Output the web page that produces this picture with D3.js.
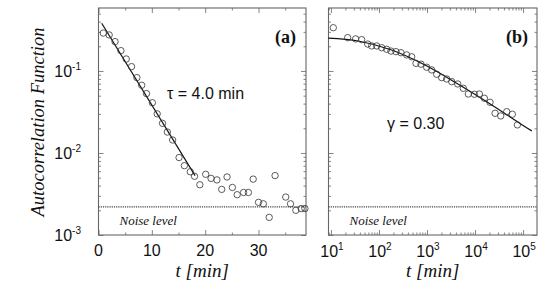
<!DOCTYPE html>
<html>
<head>
<meta charset="utf-8">
<script src="https://cdn.jsdelivr.net/npm/d3@7"></script>
<style>
  body { margin: 0; background: #fff; }
  svg { display: block; }
</style>
</head>
<body>
<svg id="chart" width="554" height="299"></svg>
<script>
// Panel (a): autocorrelation vs linear time
const aTime = [0.9, 2.0, 3.1, 4.2, 5.2, 6.2, 7.2, 8.1, 9.0, 10.1, 11.0, 12.0, 12.9, 13.9,
  15.1, 16.1, 17.2, 18.0, 19.0, 20.1, 21.1, 22.2, 23.1, 24.1, 25.1, 26.0, 27.2, 28.1,
  29.0, 30.0, 30.9, 32.0, 33.1, 35.1, 36.0, 37.0, 38.0, 38.7];
const aValue = [0.29, 0.275, 0.228, 0.177, 0.14, 0.113, 0.083, 0.067, 0.053, 0.041, 0.030,
  0.023, 0.018, 0.0144, 0.0088, 0.0070, 0.0059, 0.0052, 0.0041, 0.0055, 0.0049, 0.0047,
  0.0036, 0.0051, 0.0038, 0.0031, 0.0033, 0.0033, 0.0048, 0.0025, 0.0024, 0.00164, 0.0053,
  0.0029, 0.0024, 0.0020, 0.0021, 0.0021];
// exponential fit, ends
const aFitTime = [0.6, 18.1];
const aFitValue = [0.382, 0.0053];

// Panel (b): autocorrelation vs log time
const bTime = [11.2, 22.3, 32.7, 43.6, 58.2, 70.4, 89.6, 114, 145, 178, 226, 287, 377, 480,
  590, 750, 986, 1253, 1592, 2023, 2572, 3270, 4365, 5705, 7250, 9670, 12300, 15630,
  20530, 26100, 34300, 45700, 59800, 76100];
const bValue = [0.337, 0.255, 0.246, 0.241, 0.213, 0.202, 0.202, 0.192, 0.184, 0.175, 0.172,
  0.167, 0.157, 0.149, 0.124, 0.121, 0.111, 0.103, 0.0912, 0.0829, 0.0799, 0.0741, 0.0694,
  0.0615, 0.0524, 0.0520, 0.0524, 0.0465, 0.0415, 0.0305, 0.0283, 0.0319, 0.0297, 0.0220];
const bFitTime = [8.8, 37, 184, 908, 4490, 22300, 110000, 151700];
const bFitValue = [0.251, 0.232, 0.180, 0.118, 0.0689, 0.0385, 0.0209, 0.0186];

const noiseLevel = 0.0022;

const aTicks = [0, 10, 20, 30];
const aMinorTicks = [5, 15, 25, 35];
const bTicks = [10, 100, 1000, 10000, 100000];
const bTickExps = ["1", "2", "3", "4", "5"];
const yTicks = [0.001, 0.01, 0.1];
const yTickExps = ["-3", "-2", "-1"];

const svg = d3.select("#chart");
const frameColor = "#666";
const textColor = "#111";
const tickFont = "'Liberation Sans', Arial, sans-serif";
const serifFont = "'Liberation Serif', 'Times New Roman', serif";

const plotTop = 8, plotBottom = 235;
const y = d3.scaleLog().domain([0.001, 0.586]).range([plotBottom, plotTop]);

const xa = d3.scaleLinear().domain([0, 38.9]).range([98.5, 306]);
const xb = d3.scaleLog().domain([8.9, 195000]).range([328.5, 537]);

// log minor ticks 2..9 for each decade inside the domain
function logMinor(scale) {
  const [lo, hi] = scale.domain();
  const out = [];
  for (let e = Math.floor(Math.log10(lo)); e <= Math.ceil(Math.log10(hi)); e++) {
    for (let m = 2; m <= 9; m++) {
      const v = m * Math.pow(10, e);
      if (v > lo && v < hi) out.push(v);
    }
  }
  return out;
}

function drawFrame(x) {
  const [x0, x1] = x.range();
  const g = svg.append("g");

  const tick = (axis, pos, values, size) => {
    g.append("g")
      .attr("transform", pos)
      .call(axis.tickValues(values).tickSize(size).tickFormat(""))
      .call(s => s.select(".domain").remove())
      .call(s => s.selectAll("line").attr("stroke", frameColor).attr("stroke-width", 0.8));
  };

  const xMajor = x.domain()[0] === 0 ? aTicks : bTicks;
  const xMinor = x.domain()[0] === 0 ? aMinorTicks : logMinor(x);

  // ticks point inward on all four sides
  tick(d3.axisBottom(x), `translate(0,${plotBottom})`, xMajor, -5);
  tick(d3.axisBottom(x), `translate(0,${plotBottom})`, xMinor, -2.5);
  tick(d3.axisTop(x), `translate(0,${plotTop})`, xMajor, -5);
  tick(d3.axisTop(x), `translate(0,${plotTop})`, xMinor, -2.5);
  tick(d3.axisLeft(y), `translate(${x0},0)`, yTicks, -5);
  tick(d3.axisLeft(y), `translate(${x0},0)`, logMinor(y), -2.5);
  tick(d3.axisRight(y), `translate(${x1},0)`, yTicks, -5);
  tick(d3.axisRight(y), `translate(${x1},0)`, logMinor(y), -2.5);

  g.append("rect")
    .attr("x", x0).attr("y", plotTop)
    .attr("width", x1 - x0).attr("height", plotBottom - plotTop)
    .attr("fill", "none")
    .attr("stroke", frameColor)
    .attr("stroke-width", 1.1);

  // noise level
  g.append("line")
    .attr("x1", x0).attr("x2", x1)
    .attr("y1", y(noiseLevel)).attr("y2", y(noiseLevel))
    .attr("stroke", "#444")
    .attr("stroke-width", 1.1)
    .attr("stroke-dasharray", "1.2,1");

  g.append("text")
    .attr("x", x0 + 21).attr("y", 225)
    .attr("font-family", serifFont)
    .attr("font-style", "italic")
    .attr("font-size", 13)
    .attr("fill", textColor)
    .text("Noise level");

  g.append("text")
    .attr("x", (x0 + x1) / 2).attr("y", 277)
    .attr("text-anchor", "middle")
    .attr("font-family", serifFont)
    .attr("font-style", "italic")
    .attr("font-size", 19)
    .attr("fill", textColor)
    .text("t [min]");
}

function drawPoints(x, times, values) {
  svg.append("g")
    .selectAll("circle")
    .data(times.map((t, i) => [t, values[i]]))
    .join("circle")
    .attr("cx", d => x(d[0]))
    .attr("cy", d => y(d[1]))
    .attr("r", 3.2)
    .attr("fill", "none")
    .attr("stroke", "#333")
    .attr("stroke-width", 0.8);
}

function drawFit(x, times, values, curve) {
  const line = d3.line()
    .x(d => x(d[0]))
    .y(d => y(d[1]))
    .curve(curve);
  svg.append("path")
    .attr("d", line(times.map((t, i) => [t, values[i]])))
    .attr("fill", "none")
    .attr("stroke", "#111")
    .attr("stroke-width", 1.2);
}

// Panel (a)
drawFrame(xa);
drawFit(xa, aFitTime, aFitValue, d3.curveLinear);
drawPoints(xa, aTime, aValue);

svg.append("g")
  .selectAll("text")
  .data(aTicks)
  .join("text")
  .attr("x", d => xa(d))
  .attr("y", 256)
  .attr("text-anchor", "middle")
  .attr("font-family", tickFont)
  .attr("font-size", 16)
  .attr("fill", textColor)
  .text(d => d);

const yLabels = svg.append("g")
  .selectAll("text")
  .data(yTicks)
  .join("text")
  .attr("x", 81)
  .attr("y", d => y(d) + 6)
  .attr("text-anchor", "end")
  .attr("font-family", tickFont)
  .attr("font-size", 16)
  .attr("fill", textColor);
yLabels.append("tspan").text("10");
yLabels.append("tspan")
  .attr("dy", -7)
  .attr("font-size", 10)
  .text((d, i) => yTickExps[i]);

// Panel (b)
drawFrame(xb);
drawFit(xb, bFitTime, bFitValue, d3.curveCatmullRom);
drawPoints(xb, bTime, bValue);

const bLabels = svg.append("g")
  .selectAll("text")
  .data(bTicks)
  .join("text")
  .attr("x", d => xb(d) + 1)
  .attr("y", 257)
  .attr("text-anchor", "middle")
  .attr("font-family", tickFont)
  .attr("font-size", 16)
  .attr("fill", textColor);
bLabels.append("tspan").text("10");
bLabels.append("tspan")
  .attr("dy", -7)
  .attr("font-size", 10)
  .text((d, i) => bTickExps[i]);

// titles and annotations
svg.append("text")
  .attr("transform", "translate(44,122) rotate(-90)")
  .attr("text-anchor", "middle")
  .attr("font-family", serifFont)
  .attr("font-style", "italic")
  .attr("font-size", 18.5)
  .attr("fill", textColor)
  .text("Autocorrelation Function");

svg.append("text")
  .attr("x", 167).attr("y", 99)
  .attr("font-family", tickFont)
  .attr("font-size", 16)
  .attr("fill", textColor)
  .text("τ = 4.0 min");

svg.append("text")
  .attr("x", 387).attr("y", 129)
  .attr("font-family", tickFont)
  .attr("font-size", 16)
  .attr("fill", textColor)
  .text("γ = 0.30");

for (const [label, xr] of [["(a)", 296], ["(b)", 528]]) {
  svg.append("text")
    .attr("x", xr).attr("y", 43)
    .attr("text-anchor", "end")
    .attr("font-family", serifFont)
    .attr("font-weight", "bold")
    .attr("font-size", 18)
    .attr("fill", textColor)
    .text(label);
}
</script>
</body>
</html>
